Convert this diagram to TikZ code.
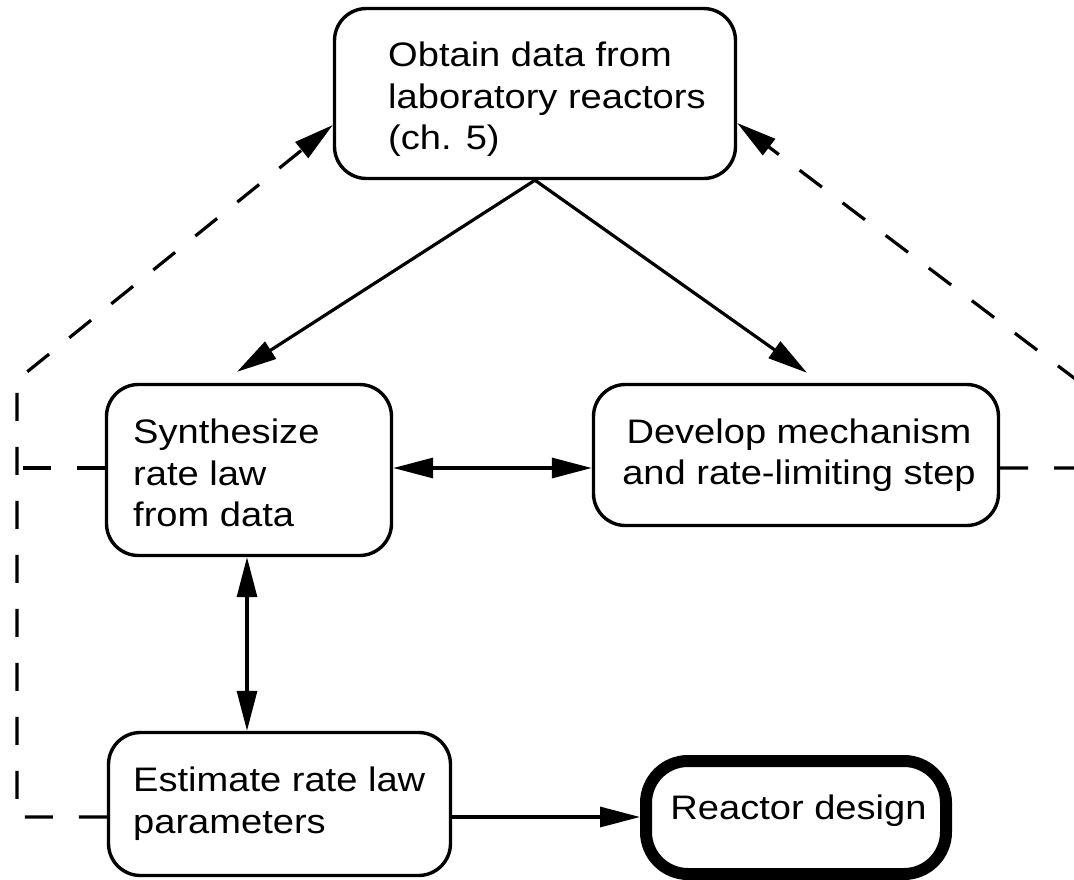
\documentclass[tikz,border=0pt]{standalone}
\usepackage{fontspec}
\setmainfont{Liberation Sans}[FakeStretch=1.12]
\usetikzlibrary{arrows.meta,calc}
\tikzset{
  box/.style={draw, line width=3.4pt, rounded corners=32pt, inner sep=0pt},
  bigbox/.style={draw, line width=12pt, rounded corners=42pt, inner sep=0pt},
  lbl/.style={inner sep=0pt, font=\fontsize{34}{41.5}\selectfont},
  arr/.style={line width=3.2pt, -{Triangle[length=40pt,width=20pt]}},
  darr/.style={line width=3.2pt, {Triangle[length=40pt,width=20pt]}-{Triangle[length=40pt,width=20pt]}},
  dasharr/.style={line width=3.2pt, dash pattern=on 28pt off 26pt, -{Triangle[length=40pt,width=20pt]}},
  dline/.style={line width=3.2pt, dash pattern=on 28pt off 26pt}
}
\begin{document}
\begin{tikzpicture}[x=1pt,y=-1pt]
\useasboundingbox (0,0) rectangle (1074,880);
\clip (0,0) rectangle (1074,880);
\fill[white] (0,0) rectangle (1074,880);
% boxes
\node[box, minimum width=401pt, minimum height=170pt] (top) at (535,93.5) {};
\node[box, minimum width=285pt, minimum height=171pt] (syn) at (249,470) {};
\node[box, minimum width=405pt, minimum height=141pt] (dev) at (796,455) {};
\node[box, minimum width=342pt, minimum height=143pt] (est) at (279.5,804) {};
\node[bigbox, minimum width=300pt, minimum height=113pt] (rea) at (796,817.5) {};
% texts
\node[lbl, align=left, anchor=west] (ttop) at (388,99.5) {Obtain data from\\laboratory reactors\\(ch. 5)};
\node[lbl, align=left, anchor=west] (tsyn) at (133,473) {Synthesize\\rate law\\from data};
\node[lbl, align=center] (tdev) at (799,455) {Develop mechanism\\and rate-limiting step};
\node[lbl, align=left, anchor=west] (test) at (133,803.5) {Estimate rate law\\parameters};
\node[lbl] (trea) at (798.5,811) {Reactor design};
% helper coordinates
\coordinate (h) at (0,468);
\coordinate (v) at (247,0);
\coordinate (e) at (0,817);
\coordinate (lc1) at (17,817);
\coordinate (lc2) at (17,380);
\coordinate (lc3) at (17,468);
\coordinate (lt) at (0,125);
\coordinate (rc1) at (1078,468);
\coordinate (rc2) at (1078,381);
\coordinate (rt) at (0,123);
% solid connectors
\draw[arr] (top.south) -- ($(syn.north)+(-12,-11)$);
\draw[arr] (top.south) -- ($(dev.north)+(11,-10)$);
\draw[darr] (syn.east |- h) -- (dev.west |- h);
\draw[darr] (syn.south -| v) -- (est.north -| v);
\draw[arr] (est.east |- e) -- (rea.west |- e);
% dashed feedback
\draw[dasharr] (est.west |- e) -- (lc1) -- (lc2) -- (top.west |- lt);
\draw[dline] (syn.west |- h) -- (lc3);
\draw[dasharr] (dev.east |- h) -- (rc1) -- (rc2) -- (top.east |- rt);
\end{tikzpicture}
\end{document}
